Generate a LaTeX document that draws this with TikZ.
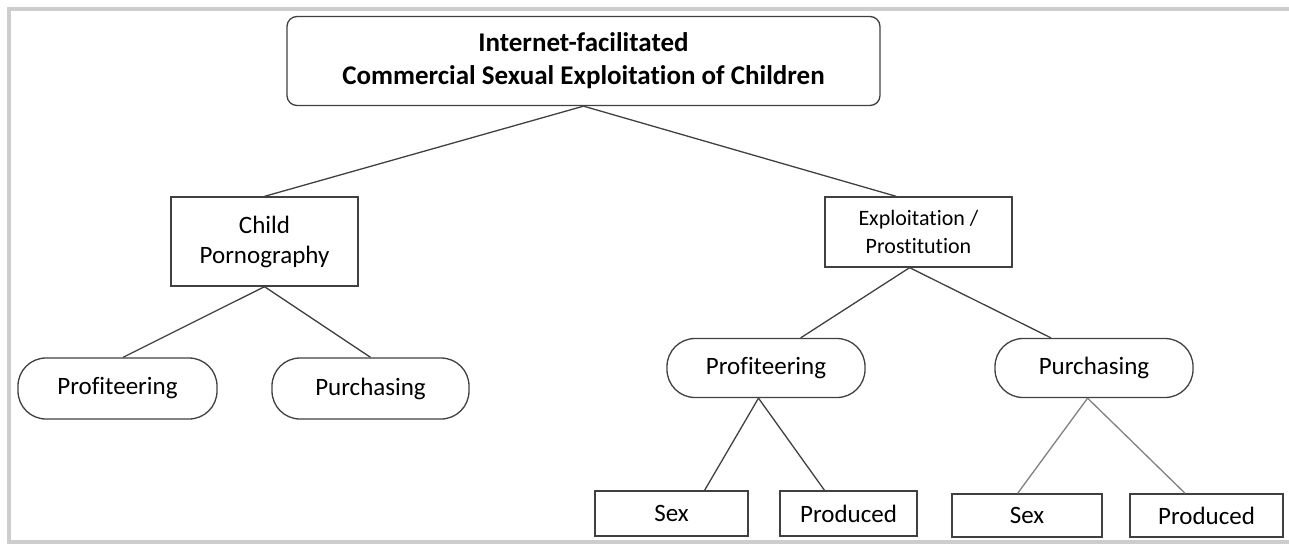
\documentclass[tikz,border=0pt]{standalone}
\usepackage{fontspec}
\setmainfont{Carlito}[Ligatures={NoCommon}, RawFeature={-liga;-clig}]
\usetikzlibrary{positioning}
\definecolor{framegray}{RGB}{205,205,205}
\definecolor{linegray}{RGB}{64,64,64}
\definecolor{softgray}{RGB}{128,128,128}
\begin{document}
\begin{tikzpicture}[x=1pt, y=1pt, on grid,
	box/.style={draw=linegray, line width=1.3pt, inner sep=0pt, align=center, font=\fontsize{25}{30}\selectfont},
	pill/.style={box, rounded corners=28pt, minimum width=198pt, minimum height=59pt},
	leaf/.style={box, minimum height=44pt},
	link/.style={draw=linegray, line width=1.3pt}]
	\useasboundingbox (0,0) rectangle (1289,-544);
	\draw[framegray, line width=4pt] (1289,-9) -- (8.5,-9) -- (8.5,-542) -- (1289,-542);
	\node (T) [box, rounded corners=10pt, minimum width=593pt, minimum height=89pt, font=\bfseries\fontsize{27}{33}\selectfont] at (583.5,-61) {Internet-facilitated\\Commercial Sexual Exploitation of Children};
	\node (CP) [box, minimum width=187pt, minimum height=89pt, below left=180.5pt and 319pt of T] {Child\\Pornography};
	\node (EP) [box, minimum width=187pt, minimum height=70pt, font=\fontsize{22}{28}\selectfont, below right=171pt and 335pt of T] {Exploitation /\\Prostitution};
	\node (PrL) [pill, minimum width=199pt, minimum height=61pt, below left=147pt and 147pt of CP] {Profiteering};
	\node (PuL) [pill, minimum width=197pt, minimum height=61pt, below right=147pt and 106pt of CP] {Purchasing};
	\node (PrR) [pill, below left=136pt and 152.5pt of EP] {Profiteering};
	\node (PuR) [pill, below right=136pt and 175.5pt of EP] {Purchasing};
	\node (SxA) [leaf, minimum width=153pt, minimum height=45pt, below left=145.5pt and 94.5pt of PrR] {Sex};
	\node (PdA) [leaf, minimum width=137pt, minimum height=45pt, below right=145.5pt and 82.5pt of PrR] {Produced};
	\node (SxB) [leaf, minimum width=150pt, minimum height=43pt, below left=147.5pt and 67pt of PuR] {Sex};
	\node (PdB) [leaf, minimum width=153pt, minimum height=43pt, below right=147.5pt and 112.5pt of PuR] {Produced};
	\draw[link] (T.south) -- (CP.north);
	\draw[link] (T.south) -- (EP.122);
	\draw[link] (CP.south) -- (PrL.80);
	\draw[link] (CP.south) -- (PuL.north);
	\draw[link] (EP.256) -- (PrR.41);
	\draw[link] (EP.256) -- (PuR.145);
	\draw[link] (PrR.256) -- (SxA.35);
	\draw[link] (PrR.256) -- (PdA.136);
	\draw[link, draw=softgray] (PuR.258) -- (SxB.113);
	\draw[link, draw=softgray] (PuR.258) -- (PdB.134);
\end{tikzpicture}
\end{document}
